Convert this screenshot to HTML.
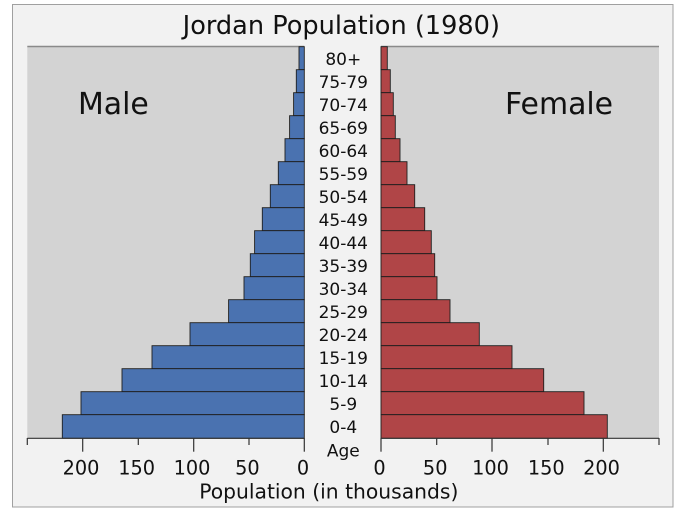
<!DOCTYPE html>
<html><head><meta charset="utf-8"><style>
html,body{margin:0;padding:0;background:#fff;}
svg{display:block;}
text{font-family:"DejaVu Sans","Liberation Sans",sans-serif;fill:#111;}
</style></head><body>
<svg width="683" height="512" viewBox="0 0 683 512" xmlns="http://www.w3.org/2000/svg">
<rect x="12.5" y="4.5" width="660.5" height="502.5" fill="#f2f2f2" stroke="#a0a0a0" stroke-width="1"/>
<text x="341.3" y="33.8" font-size="25.6" text-anchor="middle">Jordan Population (1980)</text>
<rect x="27.3" y="46.7" width="277" height="391.6" fill="#d3d3d3"/>
<rect x="381" y="46.7" width="278" height="391.6" fill="#d3d3d3"/>
<line x1="27.3" y1="46.5" x2="304.3" y2="46.5" stroke="#8a8a8a" stroke-width="1.5"/>
<line x1="381" y1="46.5" x2="659" y2="46.5" stroke="#8a8a8a" stroke-width="1.5"/>
<text x="78" y="114" font-size="29.9">Male</text>
<text x="505" y="114" font-size="29.9">Female</text>
<g stroke="#1e1e1e" stroke-width="0.9" fill="#4a72b0">
<rect x="299.0" y="46.7" width="5.3" height="23"/>
<rect x="296.3" y="69.7" width="8" height="23"/>
<rect x="293.6" y="92.7" width="10.7" height="23"/>
<rect x="289.6" y="115.7" width="14.7" height="23"/>
<rect x="285.0" y="138.7" width="19.3" height="23"/>
<rect x="278.3" y="161.7" width="26" height="23"/>
<rect x="270.3" y="184.7" width="34" height="23"/>
<rect x="262.3" y="207.7" width="42" height="23"/>
<rect x="254.6" y="230.7" width="49.7" height="23"/>
<rect x="250.3" y="253.7" width="54" height="23"/>
<rect x="244.0" y="276.7" width="60.3" height="23"/>
<rect x="228.6" y="299.7" width="75.7" height="23"/>
<rect x="190.0" y="322.7" width="114.3" height="23"/>
<rect x="152.0" y="345.7" width="152.3" height="23"/>
<rect x="122.0" y="368.7" width="182.3" height="23"/>
<rect x="81.0" y="391.7" width="223.3" height="23"/>
<rect x="62.3" y="414.7" width="242" height="23.6"/>
</g>
<g stroke="#1e1e1e" stroke-width="0.9" fill="#b04547">
<rect x="381" y="46.7" width="6.3" height="23"/>
<rect x="381" y="69.7" width="9.3" height="23"/>
<rect x="381" y="92.7" width="12.3" height="23"/>
<rect x="381" y="115.7" width="14.3" height="23"/>
<rect x="381" y="138.7" width="19" height="23"/>
<rect x="381" y="161.7" width="26" height="23"/>
<rect x="381" y="184.7" width="33.7" height="23"/>
<rect x="381" y="207.7" width="43.7" height="23"/>
<rect x="381" y="230.7" width="50.3" height="23"/>
<rect x="381" y="253.7" width="53.7" height="23"/>
<rect x="381" y="276.7" width="56" height="23"/>
<rect x="381" y="299.7" width="69" height="23"/>
<rect x="381" y="322.7" width="98.3" height="23"/>
<rect x="381" y="345.7" width="131" height="23"/>
<rect x="381" y="368.7" width="162.7" height="23"/>
<rect x="381" y="391.7" width="203" height="23"/>
<rect x="381" y="414.7" width="226.3" height="23.6"/>
</g>
<g font-size="17" text-anchor="middle">
<text x="343.3" y="65">80+</text>
<text x="343.3" y="88">75-79</text>
<text x="343.3" y="111">70-74</text>
<text x="343.3" y="134">65-69</text>
<text x="343.3" y="157">60-64</text>
<text x="343.3" y="180">55-59</text>
<text x="343.3" y="203">50-54</text>
<text x="343.3" y="226">45-49</text>
<text x="343.3" y="249">40-44</text>
<text x="343.3" y="272">35-39</text>
<text x="343.3" y="295">30-34</text>
<text x="343.3" y="318">25-29</text>
<text x="343.3" y="341">20-24</text>
<text x="343.3" y="364">15-19</text>
<text x="343.3" y="387">10-14</text>
<text x="343.3" y="410">5-9</text>
<text x="343.3" y="433">0-4</text>
<text x="343.3" y="456.5">Age</text>
</g>
<g stroke="#333" stroke-width="1.2">
<line x1="27.3" y1="438.3" x2="304.3" y2="438.3"/>
<line x1="381" y1="438.3" x2="659" y2="438.3"/>
<line x1="27.3" y1="438" x2="27.3" y2="445"/>
<line x1="82.7" y1="438" x2="82.7" y2="451.7"/>
<line x1="138.3" y1="438" x2="138.3" y2="445"/>
<line x1="193.7" y1="438" x2="193.7" y2="451.7"/>
<line x1="249" y1="438" x2="249" y2="445"/>
<line x1="304.3" y1="438" x2="304.3" y2="451.7"/>
<line x1="381" y1="438" x2="381" y2="451.7"/>
<line x1="436.7" y1="438" x2="436.7" y2="445"/>
<line x1="492" y1="438" x2="492" y2="451.7"/>
<line x1="548" y1="438" x2="548" y2="445"/>
<line x1="603.3" y1="438" x2="603.3" y2="451.7"/>
<line x1="659" y1="438" x2="659" y2="445"/>
</g>
<g font-size="19.3" text-anchor="middle">
<text x="81" y="474.3">200</text>
<text x="136.6" y="474.3">150</text>
<text x="192" y="474.3">100</text>
<text x="247.4" y="474.3">50</text>
<text x="303" y="474.3">0</text>
<text x="379.5" y="474.3">0</text>
<text x="435.2" y="474.3">50</text>
<text x="490.5" y="474.3">100</text>
<text x="546.3" y="474.3">150</text>
<text x="601.5" y="474.3">200</text>
</g>
<text x="328.8" y="498.3" font-size="20.3" text-anchor="middle">Population (in thousands)</text>
</svg>
</body></html>
